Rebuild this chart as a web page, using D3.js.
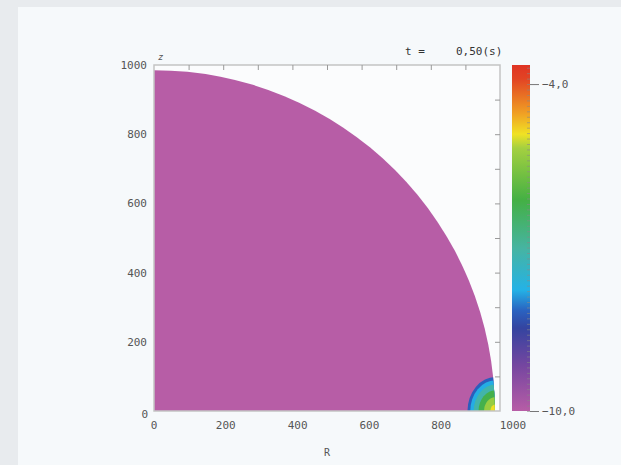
<!DOCTYPE html>
<html>
<head>
<meta charset="utf-8">
<script src="https://cdn.jsdelivr.net/npm/d3@7"></script>
<style>
  body { margin: 0; background: #e8ebee; }
  text { font-family: "DejaVu Sans Mono", monospace; fill: #555; }
</style>
</head>
<body>
<svg id="chart" width="621" height="465"></svg>
<script>
// axis ticks
var axisTicks = [0, 200, 400, 600, 800, 1000];
var frameTicks = [100, 200, 300, 400, 500, 600, 700, 800, 900];

// domain (quarter disk) and the hot spot at its rim
var domeRadius = 985;
var spotCenter = [988, 0];
var spotRadii = [82, 74, 64, 50, 34, 16];
var spotValues = [-8.2, -7.8, -7.1, -6.2, -5.3, -4.9];
var spotStretch = 1.2; // spot is a little taller than wide
var baseValue = -10;

// colour bar
var barMin = -10, barMax = -3.65;
var barLabels = [-10, -4];
var stopFrac = [0, 0.13, 0.24, 0.29, 0.35, 0.47, 0.61, 0.76, 0.8, 0.86, 0.96, 1];
var stopColors = ["#b75da6", "#7646a0", "#3444a0", "#2a62c0", "#24b2e6", "#46b4a2",
                  "#44b044", "#a4d040", "#f0e224", "#f0a024", "#e24424", "#e03424"];
var title = "t =", titleValue = "0,50(s)";

var svg = d3.select("#chart");

// light panel
svg.append("rect").attr("x", 18).attr("y", 7).attr("width", 603).attr("height", 458).attr("fill", "#f6f9fb");

var x = d3.scaleLinear().domain([0, 1000]).range([154, 500]);
var y = d3.scaleLinear().domain([0, 1000]).range([411, 65]);
// label positions in the picture drift a bit to the right of the frame ticks
var xLab = d3.scaleLinear().domain([0, 1000]).range([154, 513]);
var cb = d3.scaleLinear().domain([barMin, barMax]).range([411, 65]);
var colour = d3.scaleLinear()
  .domain(stopFrac.map(function(f) { return barMin + f * (barMax - barMin); }))
  .range(stopColors);

// plot area
svg.append("rect").attr("x", x(0)).attr("y", y(1000))
  .attr("width", x(1000) - x(0)).attr("height", y(0) - y(1000)).attr("fill", "#fbfcfd");

var defs = svg.append("defs");
var quarter = d3.arc()
  .innerRadius(0)
  .outerRadius(x(domeRadius) - x(0))
  .startAngle(0)
  .endAngle(Math.PI / 2);

defs.append("clipPath").attr("id", "dome")
  .append("path")
  .attr("transform", "translate(" + x(0) + "," + y(0) + ")")
  .attr("d", quarter());

svg.append("path")
  .attr("transform", "translate(" + x(0) + "," + y(0) + ")")
  .attr("d", quarter())
  .attr("fill", colour(baseValue));

var spot = svg.append("g").attr("clip-path", "url(#dome)");
spot.selectAll("path.band")
  .data(spotRadii.map(function(r, i) { return { r: r, v: spotValues[i] }; }))
  .enter()
  .append("path")
  .attr("class", "band")
  .attr("transform", "translate(" + x(spotCenter[0]) + "," + y(spotCenter[1]) + ") scale(1," + spotStretch + ")")
  .attr("d", function(d) {
    return d3.arc().innerRadius(0).outerRadius(x(d.r) - x(0))
      .startAngle(-Math.PI / 2).endAngle(Math.PI / 2)();
  })
  .attr("fill", function(d) { return colour(d.v); });

// frame
svg.append("rect").attr("x", x(0)).attr("y", y(1000))
  .attr("width", x(1000) - x(0)).attr("height", y(0) - y(1000))
  .attr("fill", "none").attr("stroke", "#c4c4c4").attr("stroke-width", 1.5);

var topTicks = svg.append("g")
  .attr("transform", "translate(0," + y(1000) + ")")
  .call(d3.axisBottom(x).tickValues(frameTicks).tickSize(5).tickFormat(""));
var rightTicks = svg.append("g")
  .attr("transform", "translate(" + x(1000) + ",0)")
  .call(d3.axisLeft(y).tickValues(frameTicks).tickSize(5).tickFormat(""));
[topTicks, rightTicks].forEach(function(g) {
  g.select(".domain").remove();
  g.selectAll(".tick line").attr("stroke", "#999");
});

// tick labels
svg.selectAll("text.xlab")
  .data(axisTicks)
  .enter()
  .append("text")
  .attr("class", "xlab")
  .attr("x", function(d) { return xLab(d); })
  .attr("y", y(0) + 18)
  .attr("text-anchor", "middle")
  .style("font-size", "11px")
  .text(function(d) { return d; });

svg.selectAll("text.ylab")
  .data(axisTicks)
  .enter()
  .append("text")
  .attr("class", "ylab")
  .attr("x", function(d) { return d === 0 ? 148 : 147; })
  .attr("y", function(d) { return y(d) + (d === 0 ? 7 : 4); })
  .attr("text-anchor", "end")
  .style("font-size", "11px")
  .text(function(d) { return d; });

svg.append("text").attr("x", 158).attr("y", 60)
  .style("font-size", "9px").style("font-style", "italic").text("z");
svg.append("text").attr("x", 327).attr("y", 456)
  .attr("text-anchor", "middle").style("font-size", "10px").text("R");

svg.append("text").attr("x", 405).attr("y", 55).style("font-size", "11px")
  .style("fill", "#333").text(title);
svg.append("text").attr("x", 456).attr("y", 55).style("font-size", "11px")
  .style("fill", "#333").text(titleValue);

// colour bar
var grad = defs.append("linearGradient").attr("id", "cbar")
  .attr("x1", 0).attr("y1", 1).attr("x2", 0).attr("y2", 0);
grad.selectAll("stop")
  .data(stopFrac)
  .enter()
  .append("stop")
  .attr("offset", function(d) { return d; })
  .attr("stop-color", function(d, i) { return stopColors[i]; });

var barX = 512, barW = 18;
svg.append("rect").attr("x", barX).attr("y", cb(barMax))
  .attr("width", barW).attr("height", cb(barMin) - cb(barMax))
  .attr("fill", "url(#cbar)");

var minor = d3.range(0, 64).map(function(i) { return barMin + i * 0.1; });
var barTicks = svg.append("g")
  .attr("transform", "translate(" + (barX + barW) + ",0)")
  .call(d3.axisLeft(cb).tickValues(minor).tickSize(3).tickFormat(""));
barTicks.select(".domain").remove();
barTicks.selectAll(".tick line").attr("stroke", "#888").attr("stroke-opacity", 0.6);

var barLab = svg.append("g")
  .attr("transform", "translate(" + (barX + barW) + ",0)")
  .call(d3.axisRight(cb).tickValues(barLabels).tickSize(9).tickPadding(3)
    .tickFormat(function(d) { return d3.format(".1f")(d).replace(".", ","); }));
barLab.select(".domain").remove();
barLab.selectAll(".tick line").attr("stroke", "#777");
barLab.selectAll(".tick text")
  .style("font-family", "DejaVu Sans Mono, monospace")
  .style("font-size", "11px").attr("fill", "#555");
</script>
</body>
</html>
